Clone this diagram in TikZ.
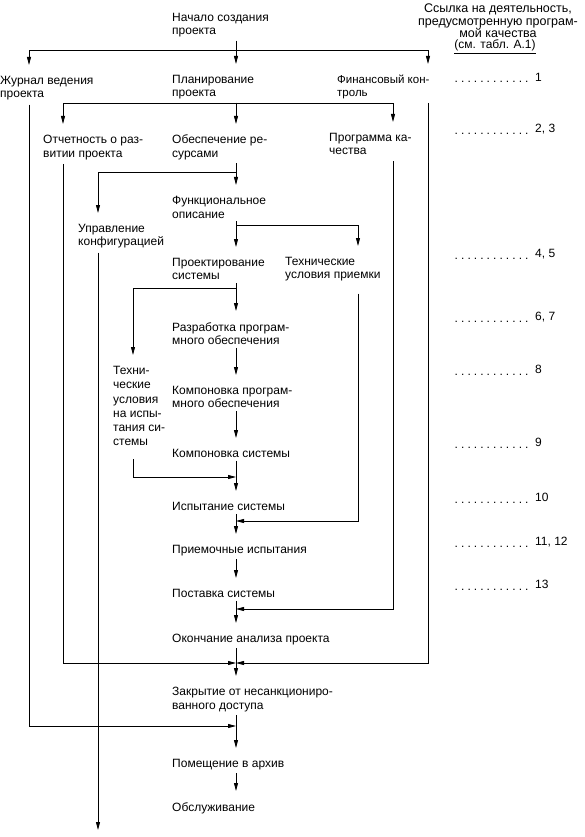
\documentclass[tikz,border=0pt]{standalone}
\usepackage{fontspec}
\setmainfont{Liberation Sans}
\usetikzlibrary{arrows.meta}
\tikzset{
  txt/.style={
    anchor=north west,
    inner sep=0pt,
    align=left,
    font=\fontsize{12}{13.5}\selectfont
  },
  txt-small/.style={
    txt,
    font=\fontsize{11.5}{12.5}\selectfont
  },
  flow/.style={
    line width=0.8pt,
    -{Triangle[length=8pt,width=4pt]}
  },
  flow-down/.style={flow, shorten <=3pt, shorten >=11pt},
  branch/.style={flow, shorten >=11pt},
  feed/.style={flow, shorten <=4pt},
  ref/.style={anchor=base west, inner sep=0pt, font=\fontsize{12}{13.5}\selectfont}
}
\newcommand{\leaderdots}{\leaders\hbox to 6.4pt{\hss.\hss}\hskip 83pt\kern-1pt}

\begin{document}
\begin{tikzpicture}[x=1pt,y=-1pt]
  \useasboundingbox (0,0) rectangle (585,837);
  % columns of the vertical lines
  \coordinate (mx)   at (236,0);
  \coordinate (xjrn) at (29,0);
  \coordinate (xrep) at (63,0);
  \coordinate (xcfg) at (98,0);
  \coordinate (xts)  at (133,0);
  \coordinate (xacc) at (358,0);
  \coordinate (xqal) at (393,0);
  \coordinate (xfin) at (428,0);
  % main chain
  \node[txt] (start)   at (172,13)  {Начало создания\\проекта};
  \node[txt] (plan)    at (172,75)  {Планирование\\проекта};
  \node[txt] (res)     at (172,135) {Обеспечение ре-\\сурсами};
  \node[txt] (func)    at (172,196) {Функциональное\\описание};
  \node[txt] (design)  at (172,258) {Проектирование\\системы};
  \node[txt] (dev)     at (172,322) {Разработка програм-\\много обеспечения};
  \node[txt] (swint)   at (172,386) {Компоновка програм-\\много обеспечения};
  \node[txt] (sysint)  at (172,449) {Компоновка системы};
  \node[txt] (systest) at (172,502) {Испытание системы};
  \node[txt] (acctest) at (172,545) {Приемочные испытания};
  \node[txt] (deliv)   at (172,589) {Поставка системы};
  \node[txt] (review)  at (172,634) {Окончание анализа проекта};
  \node[txt] (close)   at (172,687) {Закрытие от несанкциониро-\\ванного доступа};
  \node[txt] (archive) at (172,759) {Помещение в архив};
  \node[txt] (maint)   at (172,802) {Обслуживание};
  % side nodes
  \node[txt] (jrn)       at (0,76)    {Журнал ведения\\проекта};
  \node[txt-small] (fin) at (337,75)  {Финансовый кон-\\троль};
  \node[txt] (rep)       at (43,135)  {Отчетность о раз-\\витии проекта};
  \node[txt] (qal)       at (329,133) {Программа ка-\\чества};
  \node[txt] (cfg)       at (78,224)  {Управление\\конфигурацией};
  \node[txt] (accspec)   at (285,257) {Технические\\условия приемки};
  \node[txt, font=\fontsize{12}{14.3}\selectfont] (tspec) at (113,366)
    {Техни-\\ческие\\условия\\на испы-\\тания си-\\стемы};
  % references
  \node[txt, anchor=north, align=center, font=\fontsize{12.5}{12.5}\selectfont] (head) at (498,4)
    {Ссылка на деятельность,\\предусмотренную програм-\\мой качества};
  \node[ref, anchor=base, font=\fontsize{12}{13.5}\selectfont] (head-tab) at (495,49)
    {\underline{(см. табл. А.1)}};
  \node[ref] (r1)  at (453,83)  {\leaderdots\raisebox{1pt}{1}};
  \node[ref] (r2)  at (453,135) {\leaderdots\raisebox{2pt}{2, 3}};
  \node[ref] (r3)  at (453,259) {\leaderdots\raisebox{2pt}{4, 5}};
  \node[ref] (r4)  at (453,322) {\leaderdots\raisebox{2pt}{6, 7}};
  \node[ref] (r5)  at (453,375) {\leaderdots\raisebox{2pt}{8}};
  \node[ref] (r6)  at (453,448) {\leaderdots\raisebox{2pt}{9}};
  \node[ref] (r7)  at (453,503) {\leaderdots\raisebox{2pt}{10}};
  \node[ref] (r8)  at (453,547) {\leaderdots\raisebox{2pt}{11, 12}};
  \node[ref] (r9)  at (453,590) {\leaderdots\raisebox{2pt}{13}};
  % junctions on the main line
  \coordinate (j1)  at (236,50);
  \coordinate (j2)  at (236,103);
  \coordinate (j3)  at (236,172);
  \coordinate (j4)  at (236,225);
  \coordinate (j5)  at (236,288);
  \coordinate (j6)  at (236,477);
  \coordinate (j7)  at (236,521);
  \coordinate (j8)  at (236,609);
  \coordinate (j9)  at (236,663);
  \coordinate (j10) at (236,726);
  \coordinate (cfgend) at (98,830);
  % main arrows
  \foreach \a/\b in {start/plan, plan/res, res/func, func/design, design/dev,
                     dev/swint, swint/sysint, sysint/systest, systest/acctest,
                     acctest/deliv, deliv/review, review/close, close/archive,
                     archive/maint}
    \draw[flow-down] (\a.south -| mx) -- (\b.north -| mx);
  % branches off the main line
  \draw[branch] (j1) -| (jrn.north -| xjrn);
  \draw[branch] (j1) -| (fin.north -| xfin);
  \draw[branch] (j2) -| (rep.north -| xrep);
  \draw[branch] (j2) -| (qal.north -| xqal);
  \draw[branch] (j3) -| (cfg.north -| xcfg);
  \draw[branch] (j4) -| (accspec.north -| xacc);
  \draw[branch] (j5) -| (tspec.north -| xts);
  % lines back into the main line
  \draw[feed, shorten <=13pt] (tspec.south -| xts) |- (j6);
  \draw[feed, shorten <=12pt] (accspec.south -| xacc) |- (j7);
  \draw[feed, shorten <=6pt] (qal.south -| xqal) |- (j8);
  \draw[feed] (rep.south -| xrep) |- (j9);
  \draw[feed] (fin.south -| xfin) |- (j9);
  \draw[feed] (jrn.south -| xjrn) |- (j10);
  \draw[flow, shorten <=4pt] (cfg.south -| xcfg) -- (cfgend);
\end{tikzpicture}
\end{document}
